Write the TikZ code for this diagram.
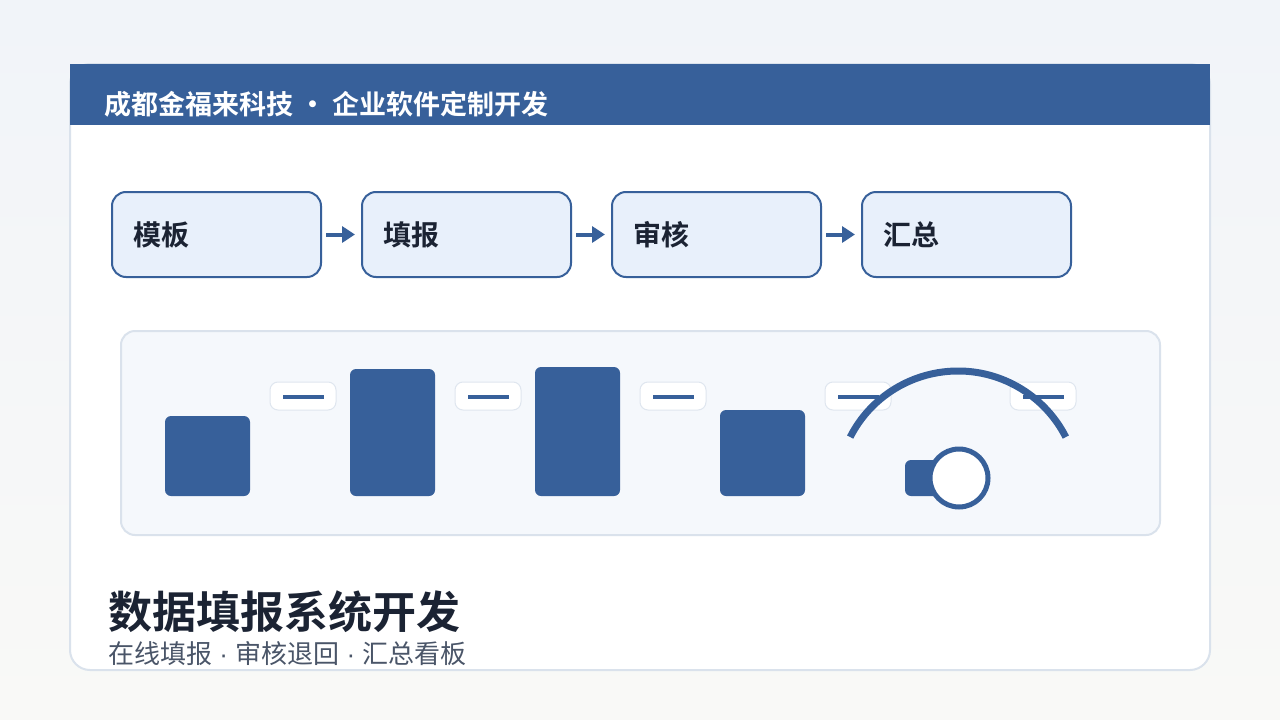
\documentclass[tikz,border=0pt]{standalone}
\usepackage{fontspec}
\setmainfont{Noto Sans CJK SC}[BoldFont={Noto Sans CJK SC Bold}]
\newfontfamily\latinfont{Liberation Sans}
\usetikzlibrary{arrows.meta}
\definecolor{bgtop}{HTML}{F1F4F9}
\definecolor{bgbot}{HTML}{F9F9F7}
\definecolor{headblue}{HTML}{37609A}
\definecolor{cardborder}{HTML}{DAE2EC}
\definecolor{boxfill}{HTML}{E8F0FB}
\definecolor{darktext}{HTML}{1B2333}
\definecolor{graytext}{HTML}{4A5568}
\definecolor{panelfill}{HTML}{F5F8FC}
\definecolor{pillborder}{HTML}{DFE6EF}
\newcommand{\middot}{{\latinfont\ ·\ }}
\tikzset{
  flowbox/.style={draw=headblue, line width=2pt, fill=boxfill, rounded corners=14pt,
    minimum width=209pt, minimum height=85pt, text width=167pt, inner xsep=21pt,
    align=left, text=darktext, font=\bfseries\fontsize{28}{28}\selectfont, anchor=north west},
  flowarrow/.style={draw=headblue, line width=4pt, shorten <=4pt, shorten >=6pt,
    -{Triangle[length=13pt,width=16pt]}},
  bar/.style={fill=headblue, rounded corners=6pt},
  pill/.style={fill=white, draw=pillborder, line width=1pt, rounded corners=8pt},
  pillline/.style={draw=headblue, line width=4pt},
}
\begin{document}
\begin{tikzpicture}[x=1pt,y=-1pt]
\useasboundingbox (0,0) rectangle (1280,720);
\shade[top color=bgtop, bottom color=bgbot] (0,0) rectangle (1280,720);
% card
\draw[fill=white, draw=cardborder, line width=2pt, rounded corners=20pt] (70,64) rectangle (1210,670);
\fill[headblue] (70,64) rectangle (1210,125);
\node[anchor=west, inner sep=0pt, text=white, font=\bfseries\fontsize{27}{27}\selectfont] (hdr) at (104,104) {成都金福来科技 • 企业软件定制开发};
% flow
\node[flowbox] (b1) at (111,191) {模板};
\node[flowbox] (b2) at (361,191) {填报};
\node[flowbox] (b3) at (611,191) {审核};
\node[flowbox] (b4) at (861,191) {汇总};
\draw[flowarrow] (b1.east) -- (b2.west);
\draw[flowarrow] (b2.east) -- (b3.west);
\draw[flowarrow] (b3.east) -- (b4.west);
% panel
\draw[fill=panelfill, draw=cardborder, line width=2pt, rounded corners=14pt] (121,331) rectangle (1160,535);
\fill[bar] (165,416) rectangle (250,496);
\fill[bar] (350,369) rectangle (435,496);
\fill[bar] (535,367) rectangle (620,496);
\fill[bar] (720,410) rectangle (805,496);
\foreach \x in {270,455,640,825,1010}{
  \draw[pill] (\x,382) rectangle (\x+66,410);
  \draw[pillline] (\x+13,396.5) -- (\x+54,396.5);
}
% gauge
\draw[headblue, line width=7pt] (958,492) ++(207:121) arc[start angle=207, end angle=333, radius=121];
\fill[headblue, rounded corners=6pt] (905,460) rectangle (945,496);
\draw[fill=white, draw=headblue, line width=5pt] (959,478) circle[radius=29];
% bottom text
\node[anchor=west, inner sep=0pt, text=darktext, font=\bfseries\fontsize{44}{44}\selectfont] (title) at (108,612) {数据填报系统开发};
\node[anchor=west, inner sep=0pt, text=graytext, font=\fontsize{26}{26}\selectfont] (sub) at (108,654) {在线填报\middot 审核退回\middot 汇总看板};
\end{tikzpicture}
\end{document}
